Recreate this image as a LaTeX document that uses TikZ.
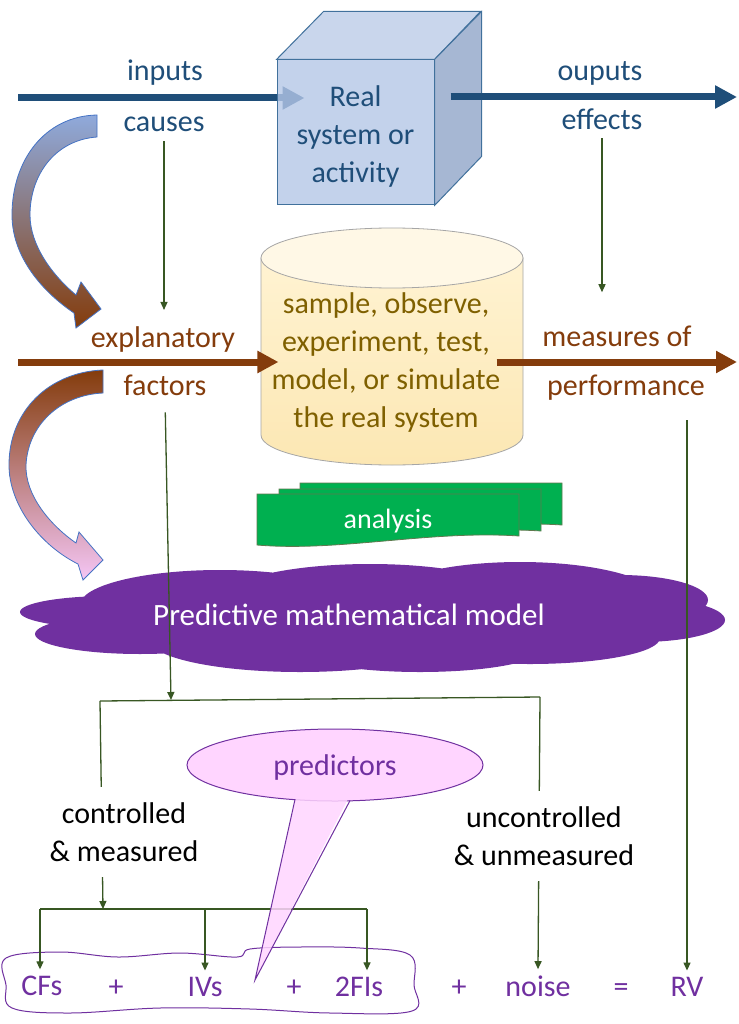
\documentclass[tikz,border=0pt]{standalone}
\usepackage{fontspec}
\setmainfont{Carlito}
\usetikzlibrary{arrows.meta}
\usetikzlibrary{shapes.geometric}

\definecolor{dblue}{HTML}{1F4E79}
\definecolor{cubefront}{HTML}{B4C7E7}
\definecolor{cubetop}{HTML}{C9D6EC}
\definecolor{cubeside}{HTML}{A6B7D3}
\definecolor{cubeline}{HTML}{41719C}
\definecolor{dbrown}{HTML}{843C0C}
\definecolor{olive}{HTML}{7F6000}
\definecolor{cyltop}{HTML}{FFF8E6}
\definecolor{cylbody}{HTML}{FFF3D2}
\definecolor{cylbottom}{HTML}{FCE7B3}
\definecolor{dgreen}{HTML}{385723}
\definecolor{docgreen}{HTML}{00B050}
\definecolor{mpurple}{HTML}{7030A0}
\definecolor{pinkfill}{HTML}{FFD5FF}
\definecolor{lblue}{HTML}{8FAADC}
\definecolor{lpink}{HTML}{F5C6F5}
\definecolor{arrowline}{HTML}{4472C4}

\pgfdeclarelayer{bg}
\pgfsetlayers{bg,main}

\begin{document}
\begin{tikzpicture}[x=1pt,y=-1pt]
\tikzstyle{every node}=[font=\fontsize{30}{38}\selectfont,inner sep=2pt]
\tikzstyle{toplabel}=[text=dblue,anchor=base]
\tikzstyle{midlabel}=[text=dbrown,anchor=base]
\tikzstyle{term}=[text=mpurple,anchor=base,inner sep=6pt]
\tikzstyle{bigblue}=[line width=7pt,draw=dblue,-{Triangle[length=22pt,width=22pt]}]
\tikzstyle{bigbrown}=[line width=7pt,draw=dbrown,-{Triangle[length=21pt,width=21pt]}]
\tikzstyle{link}=[line width=1.3pt,draw=dgreen,-{Triangle[length=8pt,width=7pt]}]
\tikzstyle{plain}=[line width=1.3pt,draw=dgreen]
\tikzstyle{curvearrow}=[draw=arrowline,line width=0.8pt]
\tikzstyle{note}=[fill=white,align=center,inner xsep=2pt,inner ysep=15pt]

\begin{pgfonlayer}{bg}
\fill[white] (0,0) rectangle (738,1024);
\end{pgfonlayer}
\useasboundingbox (0,0) rectangle (738,1024);

\node[draw=cubeline,fill=cubefront,fill opacity=0.8,line width=1pt,minimum width=157pt,minimum height=145pt] (cube) at (355.5,132.5) {};
\draw[draw=cubeline,fill=cubetop,line width=1pt] (cube.north west) -- ++(47,-48) -- ++(157,0) -- (cube.north east) -- cycle;
\draw[draw=cubeline,fill=cubeside,line width=1pt] (cube.north east) -- ++(47,-48) -- ++(0,145) -- (cube.south east) -- cycle;
\node[text=dblue,align=center] (sys) at (355.5,137) {Real\\system or\\activity};

\node[toplabel] (inputs) at (165,81) {inputs};
\node[toplabel] (causes) at (164,132) {causes};
\node[toplabel] (ouputs) at (600,81) {ouputs};
\node[toplabel] (effects) at (602,130) {effects};
\coordinate (in) at (18,98);
\coordinate (out) at (737,97);
\begin{pgfonlayer}{bg}
\draw[bigblue,shorten >=-28pt] (in) -- (in -| cube.west);
\end{pgfonlayer}
\draw[bigblue,shorten <=16pt] (out -| cube.east) -- (out);

\draw[draw=gray!70,top color=cylbody,bottom color=cylbottom,line width=0.8pt] (261,258) -- (261,435) arc[start angle=180,end angle=0,x radius=131,y radius=30] -- (523,258) -- cycle;
\draw[draw=gray!70,fill=cyltop,line width=0.8pt] (392,258) ellipse[x radius=131,y radius=30];
\node[text=olive,align=center] (lab) at (386,362) {sample, observe,\\experiment, test,\\model, or simulate\\the real system};

\node[midlabel] (expl) at (163,347) {explanatory};
\node[midlabel] (fac) at (165,395) {factors};
\node[midlabel] (meas) at (617,346) {measures of};
\node[midlabel] (perf) at (626,395) {performance};
\coordinate (ein) at (18,362);
\coordinate (eout) at (737,362);
\draw[bigbrown,shorten >=-9pt] (ein) -- (ein -| lab.west);
\draw[bigbrown,shorten <=-6pt] (lab.east |- eout) -- (eout);

\foreach \dx/\dy in {43/-11,22/-5,0/0}
  \draw[fill=docgreen,draw=dgreen!80,line width=0.8pt,shift={(\dx,\dy)}] (257,494) -- (519,494) -- (519,536) .. controls (430,530) and (340,552) .. (257,545) -- cycle;
\node[text=white,anchor=base,font=\fontsize{28}{34}\selectfont] (ana) at (388,528) {analysis};

\fill[mpurple] (110,612) ellipse[x radius=90,y radius=16] (140,634) ellipse[x radius=105,y radius=20]
  (220,605) ellipse[x radius=140,y radius=35] (370,600) ellipse[x radius=150,y radius=36]
  (520,600) ellipse[x radius=140,y radius=38] (620,600) ellipse[x radius=88,y radius=25]
  (640,620) ellipse[x radius=85,y radius=22] (530,638) ellipse[x radius=130,y radius=26]
  (300,640) ellipse[x radius=150,y radius=32] (420,650) ellipse[x radius=120,y radius=22];
\node[text=white,anchor=base,font=\fontsize{31}{38}\selectfont] (model) at (349,625) {Predictive mathematical model};

\draw[mpurple,line width=1pt,fill=white] plot[smooth cycle,tension=0.6] coordinates {(6,958) (60,952) (118,957) (180,953) (237,957) (250,949) (300,947) (360,948) (410,955) (414,985) (412,1011) (330,1013) (250,1009) (160,1008) (70,1013) (12,1008) (6,985)};
\node[term] (cfs) at (42,995) {CFs};
\node[term] (p1) at (116,996) {+};
\node[term] (ivs) at (205,996) {IVs};
\node[term] (p2) at (294,996) {+};
\node[term] (fis) at (359,996) {2FIs};
\node[term] (p3) at (459,996) {+};
\node[term] (noise) at (538,996) {noise};
\node[term] (eq) at (621,996) {=};
\node[term] (rv) at (687,996) {RV};

\coordinate (jl) at (100,701);
\coordinate (jr) at (540,697);
\coordinate (jm) at (171,700);
\coordinate (kl) at (40,909);
\coordinate (kr) at (367,909);
\coordinate (km) at (103,909);
\draw[link,shorten <=7pt,shorten >=14pt] (causes.south) -- (causes.south |- expl.north);
\draw[link,shorten <=6pt,shorten >=31pt] (effects.south) -- (effects.south |- meas.north);
\draw[link,shorten <=15pt] (fac.south) -- (jm);
\draw[plain] (jl) -- (jr);
\draw[link] (jl) -- (km);
\draw[plain] (kl) -- (kr);
\draw[link] (kl) -- (kl |- cfs.north);
\draw[link] (ivs.north |- kl) -- (ivs.north);
\draw[link] (kr) -- (kr |- fis.north);
\draw[link] (jr) -- (noise.north);
\draw[link,shorten <=18pt] (perf.south -| rv.north) -- (rv.north);

\node[note] (cm) at (124,832) {controlled\\\& measured};
\node[note] (um) at (544,836) {uncontrolled\\\& unmeasured};

\coordinate (tip) at (255,980);
\node[ellipse,draw=mpurple,fill=pinkfill,line width=1pt,minimum width=296pt,minimum height=72pt,inner sep=0pt] (pred) at (335,765) {};
\node[text=mpurple,anchor=base] (predtxt) at (335,775) {predictors};
\fill[pinkfill,fill opacity=0.85] (296,797) -- (tip) -- (349,797) -- cycle;
\draw[mpurple,line width=1pt] (295,799.5) -- (tip) -- (350,800.6);

\draw[curvearrow,top color=lblue,bottom color=dbrown] (97,115) -- (97,137) .. controls (55,140) and (30,175) .. (30,215) .. controls (30,245) and (52,275) .. (76,295) -- (81,282) -- (101,309) -- (76,328) -- (74,313) .. controls (40,290) and (12,255) .. (12,215) .. controls (12,160) and (45,116) .. (97,115) -- cycle;
\draw[curvearrow,top color=dbrown,bottom color=lpink] (103,370) -- (103,393) .. controls (60,395) and (28,425) .. (26,465) .. controls (25,495) and (50,525) .. (76,543) -- (79,532) -- (103,560) -- (83,580) -- (78,564) .. controls (40,545) and (9,505) .. (9,465) .. controls (9,410) and (50,372) .. (103,370) -- cycle;
\end{tikzpicture}
\end{document}
